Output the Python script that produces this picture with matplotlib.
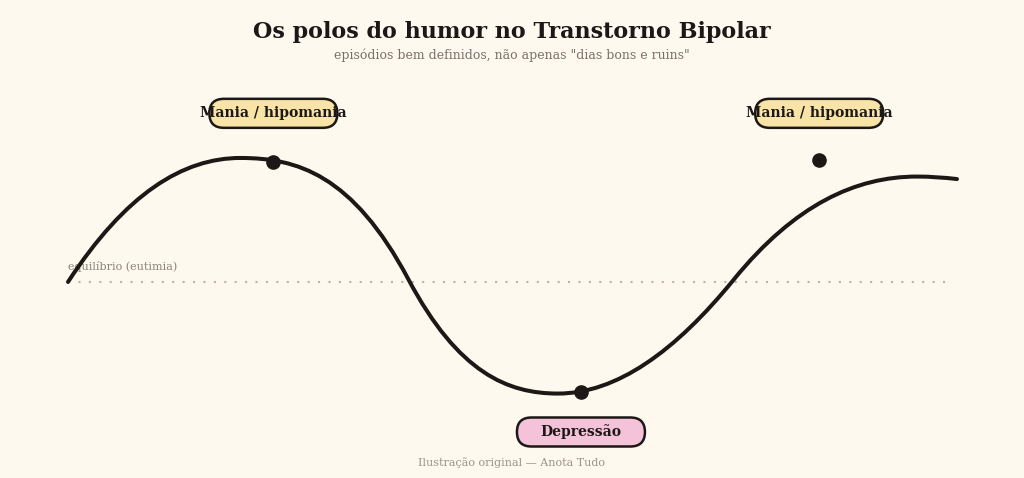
import numpy as np
import matplotlib
matplotlib.use("Agg")
import matplotlib.pyplot as plt
from matplotlib.path import Path
from matplotlib.patches import PathPatch, FancyBboxPatch
import matplotlib.transforms as mtransforms

# mood curve knots (t = time 0..10 ; mood: 0 = euthymia)
# with the slope of the curve at each knot
t_knots = [0.0, 1.94, 3.83, 5.51, 7.49, 9.55, 10.0]
mood_knots = [0.0, 1.0, 0.02, -0.90, 0.02, 0.85, 0.83]
slope_knots = [1.1, 0.0, -1.35, 0.0, 0.88, 0.0, -0.08]

# the marked poles
pole_t = [2.31, 5.77, 8.45]
pole_mood = [0.97, -0.89, 0.98]

# labels
label_text = ["Mania / hipomania", "Depressão", "Mania / hipomania"]
label_t = [2.31, 5.77, 8.45]
label_mood = [1.36, -1.21, 1.36]
label_fill = ["#f8e4a6", "#f5c3d9", "#f8e4a6"]

bg = "#fdf9ef"
ink = "#1c1816"

fig = plt.figure(figsize=(10.24, 4.78), dpi=100, facecolor=bg)
ax = fig.add_axes([0, 0, 1, 1])
ax.set_facecolor(bg)
ax.set_xlim(-0.765, 10.754)
ax.set_ylim(-1.581, 2.274)
ax.axis("off")

# equilibrium line
ax.plot([0, 9.92], [0, 0], color="#bbb3a5", lw=1.5, linestyle=(0, (1, 4)), zorder=1)
ax.text(0.0, 0.08, "equilíbrio (eutimia)", family="DejaVu Serif", fontsize=8,
        color="#8a847b", ha="left", va="bottom", zorder=1)

# curve: cubic bezier segments between knots (hermite tangents)
verts = [(t_knots[0], mood_knots[0])]
codes = [Path.MOVETO]
for i in range(len(t_knots) - 1):
    h = (t_knots[i + 1] - t_knots[i]) / 3.0
    c1 = (t_knots[i] + h, mood_knots[i] + h * slope_knots[i])
    c2 = (t_knots[i + 1] - h, mood_knots[i + 1] - h * slope_knots[i + 1])
    verts += [c1, c2, (t_knots[i + 1], mood_knots[i + 1])]
    codes += [Path.CURVE4] * 3
ax.add_patch(PathPatch(Path(verts, codes), facecolor="none", edgecolor=ink,
                       lw=2.9, capstyle="round", zorder=3))

ax.plot(pole_t, pole_mood, "o", color=ink, markersize=9.5, zorder=4)

# pill labels (fixed pixel size boxes)
for txt, x, y, fc in zip(label_text, label_t, label_mood, label_fill):
    tr = mtransforms.IdentityTransform() + mtransforms.ScaledTranslation(x, y, ax.transData)
    box = FancyBboxPatch((-64, -14.5), 128, 29, boxstyle="round,pad=0,rounding_size=14.5",
                         facecolor=fc, edgecolor=ink, lw=1.8, transform=tr, zorder=5)
    ax.add_patch(box)
    ax.text(x, y, txt, family="DejaVu Serif", fontweight="bold", fontsize=10,
            color=ink, ha="center", va="center", zorder=6)

fig.text(0.5, 0.933, "Os polos do humor no Transtorno Bipolar", family="DejaVu Serif",
         fontweight="bold", fontsize=16, color=ink, ha="center", va="center")
fig.text(0.5, 0.885, 'episódios bem definidos, não apenas "dias bons e ruins"',
         family="DejaVu Serif", fontsize=9, color="#77716a", ha="center", va="center")
fig.text(0.5, 0.033, "Ilustração original — Anota Tudo", family="DejaVu Serif",
         fontsize=8, color="#9a948b", ha="center", va="center")

fig.savefig("out.png", dpi=100, facecolor=bg)
